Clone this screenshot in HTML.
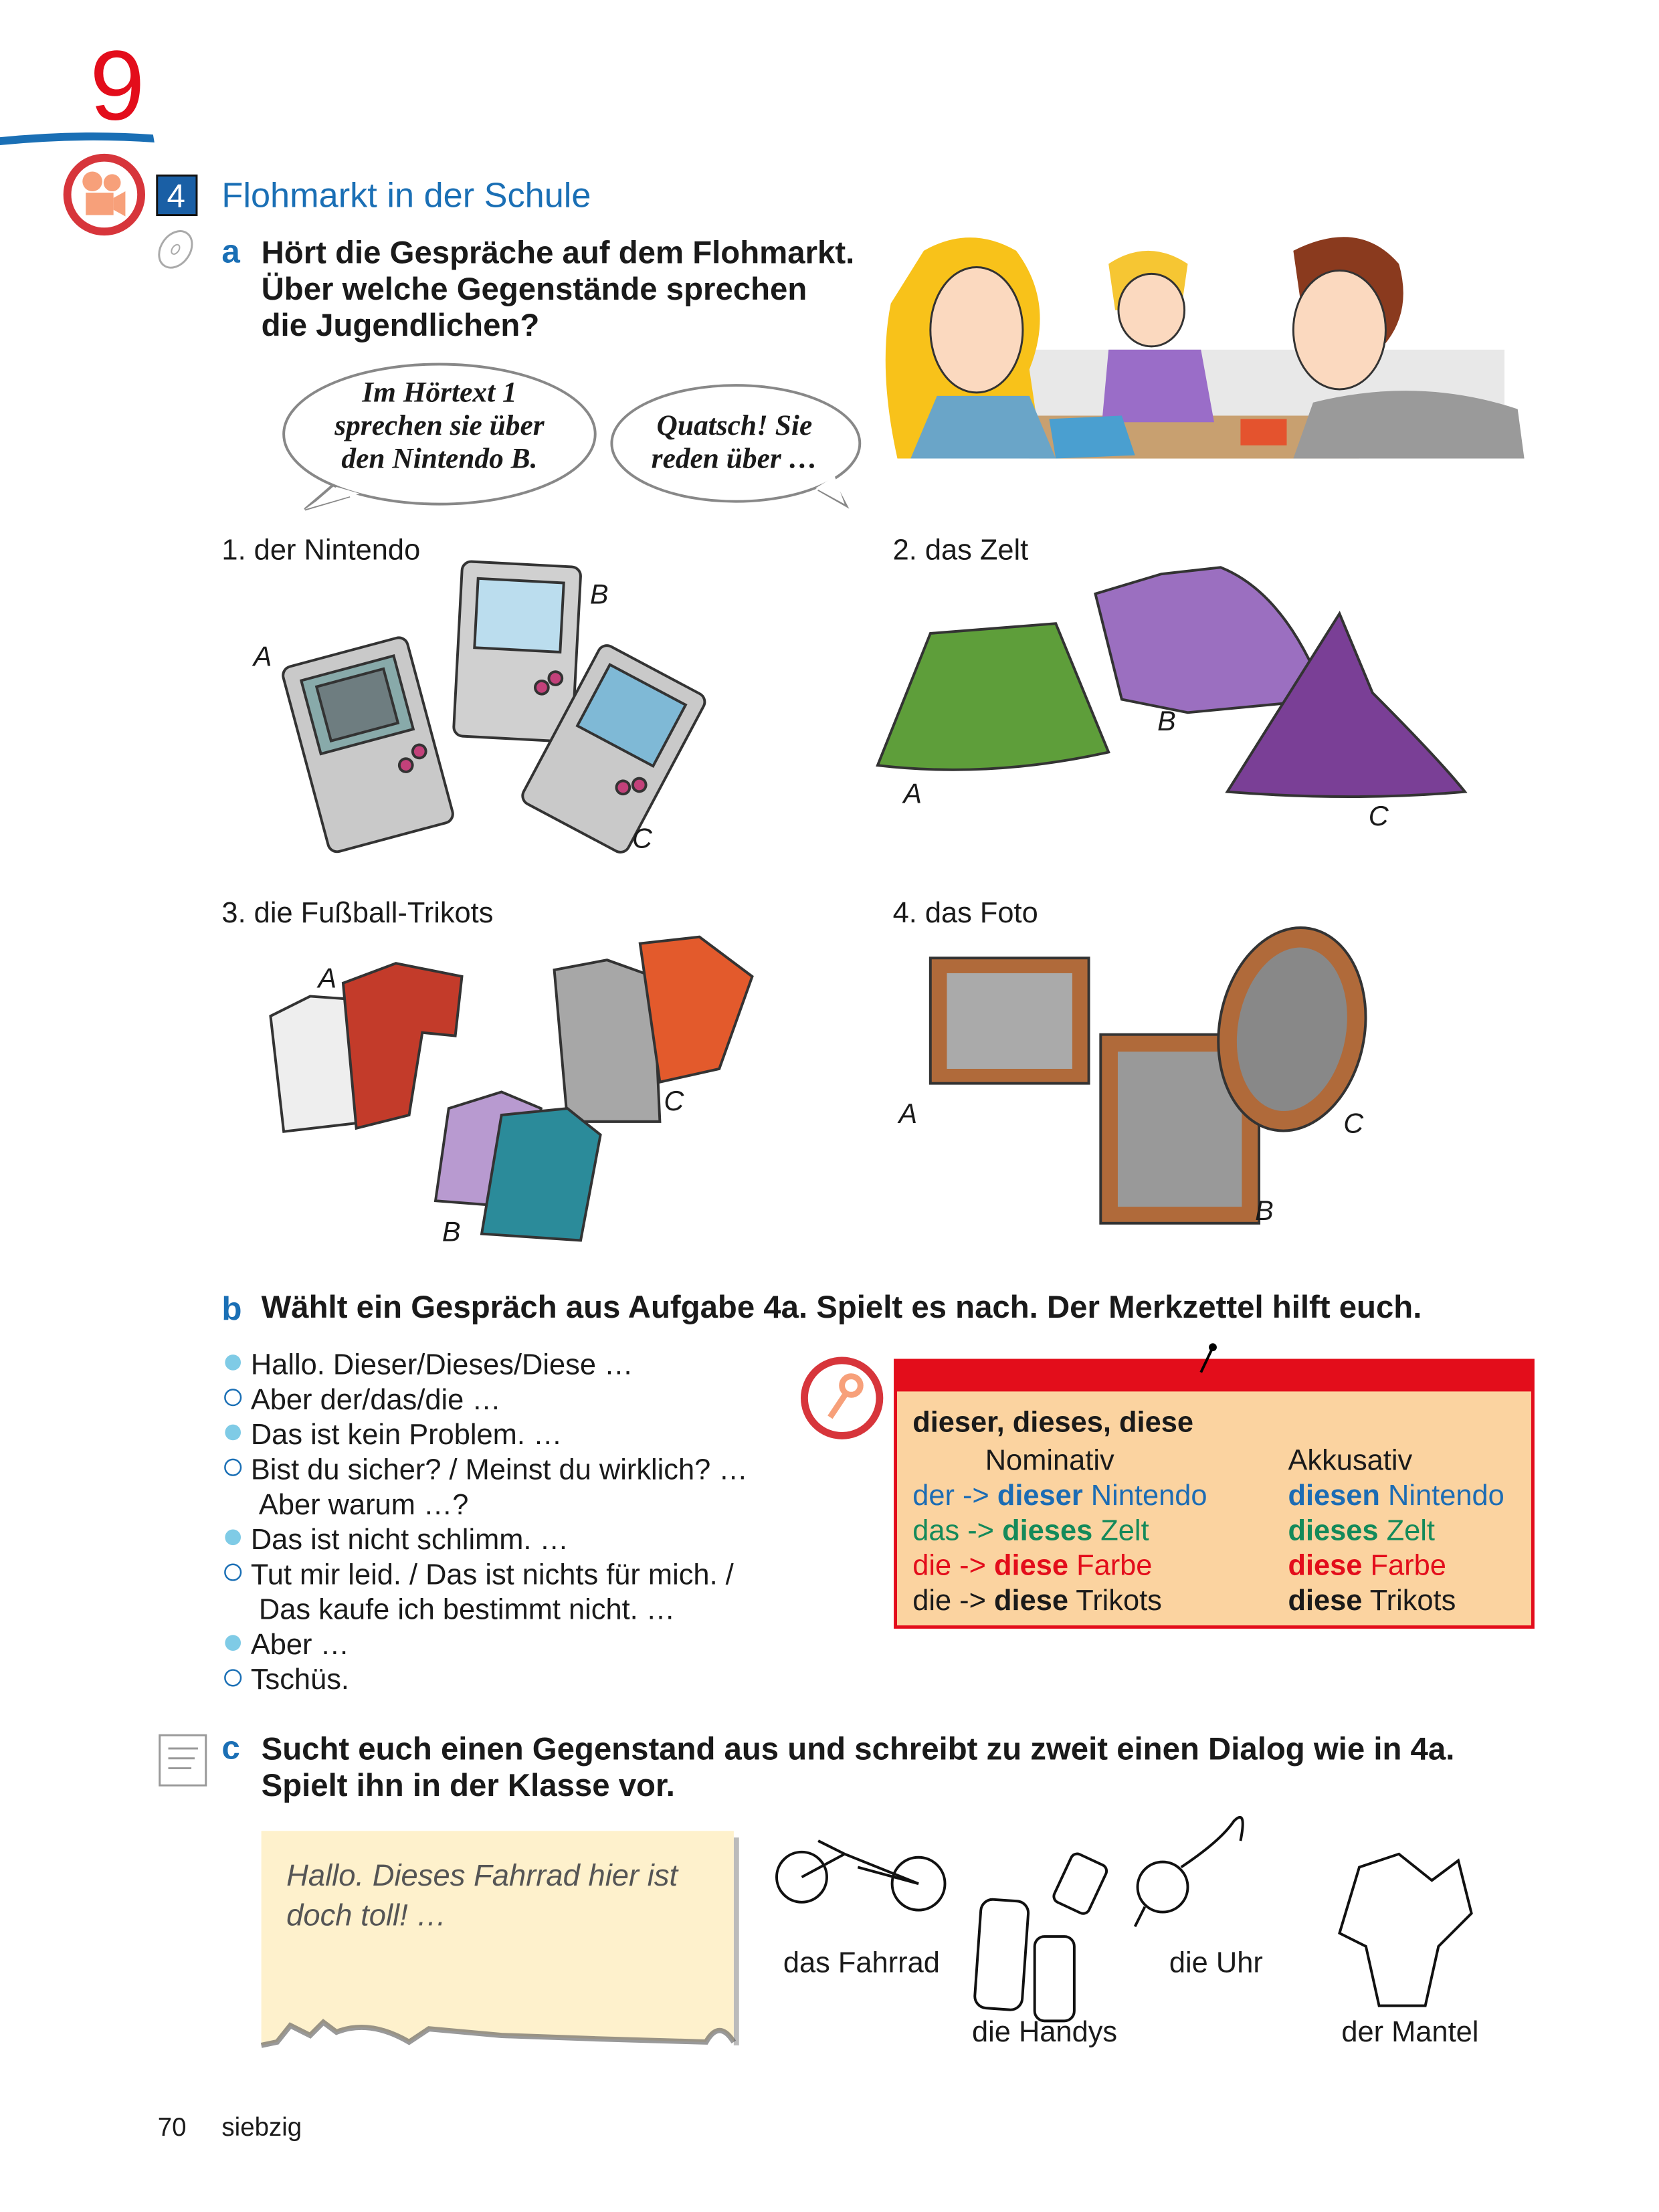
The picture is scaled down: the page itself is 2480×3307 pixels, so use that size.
<!DOCTYPE html>
<html><head><meta charset="utf-8"><style>
html,body{margin:0;padding:0;background:#fff}
body{width:2480px;height:3307px;position:relative;overflow:hidden;font-family:"Liberation Sans",sans-serif;color:#1a1a1a}
#w{position:absolute;left:0;top:0;width:2515px;height:3353px;transform:scale(0.9864);transform-origin:0 0}
.t{position:absolute;white-space:nowrap;line-height:1}
.b{font-weight:bold}
.blue{color:#1a6fb5}
.g{color:#148a5a}
.r{color:#e30d1b}
.bl{color:#1c6cb4}
svg{position:absolute;left:0;top:0}
</style></head><body><div id="w">
<svg width="2515" height="3353" viewBox="0 0 2515 3353">
<path d="M0 208 Q120 196 232 204 L234 216 Q120 208 0 220 Z" fill="#1a6fb5"/>
<circle cx="158" cy="295" r="56" fill="#fff" stroke="#d7353b" stroke-width="12"/>
<circle cx="140" cy="275" r="15" fill="#f7a07a"/><circle cx="170" cy="277" r="13" fill="#f7a07a"/>
<rect x="130" y="292" width="42" height="34" fill="#f7a07a"/><path d="M172 300 L190 290 L190 328 L172 318Z" fill="#f7a07a"/>
<rect x="238" y="266" width="60" height="60" fill="#1a5fa5" stroke="#111" stroke-width="3"/>
<ellipse cx="266" cy="378" rx="22" ry="30" transform="rotate(35 266 378)" fill="none" stroke="#aaa" stroke-width="3"/>
<ellipse cx="266" cy="378" rx="5" ry="8" transform="rotate(35 266 378)" fill="none" stroke="#aaa" stroke-width="2"/>
<!-- speech bubbles -->
<path d="M505 735 L462 772 L530 752" fill="#fff" stroke="#888" stroke-width="4"/>
<ellipse cx="666" cy="658" rx="236" ry="106" fill="#fff" stroke="#888" stroke-width="4"/>
<path d="M510 738 L462 772 L545 748Z" fill="#fff"/>
<path d="M1240 742 L1282 766 L1262 728" fill="#fff" stroke="#888" stroke-width="4"/>
<ellipse cx="1115" cy="672" rx="188" ry="88" fill="#fff" stroke="#888" stroke-width="4"/>
<path d="M1236 740 L1280 764 L1265 722Z" fill="#fff"/>
<!-- kids picture -->
<g>
<rect x="1440" y="530" width="840" height="165" fill="#e8e8e8"/>
<rect x="1560" y="630" width="500" height="65" fill="#c8a070"/>
<path d="M1400 380 Q1470 340 1540 380 Q1600 460 1560 560 L1580 695 L1360 695 Q1330 560 1350 460Z" fill="#f8c21a"/>
<ellipse cx="1480" cy="500" rx="70" ry="95" fill="#fbd9bf" stroke="#333" stroke-width="3"/>
<path d="M1420 600 L1560 600 L1600 695 L1380 695Z" fill="#6aa5c8"/>
<path d="M1680 400 Q1740 360 1800 400 L1790 470 L1690 470Z" fill="#f6c633"/>
<ellipse cx="1745" cy="470" rx="50" ry="55" fill="#fbd9bf" stroke="#333" stroke-width="3"/>
<path d="M1680 530 L1820 530 L1840 640 L1670 640Z" fill="#9a6dc8"/>
<path d="M1960 380 Q2060 330 2120 400 Q2140 470 2100 520 L1980 520Z" fill="#8a3a1e"/>
<ellipse cx="2030" cy="500" rx="70" ry="90" fill="#fbd9bf" stroke="#333" stroke-width="3"/>
<path d="M1990 610 Q2150 570 2300 620 L2310 695 L1960 695Z" fill="#9a9a9a"/>
<path d="M1590 635 L1700 630 L1720 690 L1600 695Z" fill="#4a9fd0"/>
<rect x="1880" y="635" width="70" height="40" fill="#e4532e"/>
</g>
<g stroke="#333" stroke-width="4">
<g transform="rotate(-15 550 1110)"><rect x="455" y="985" width="195" height="290" rx="14" fill="#c9c9c9"/><rect x="480" y="1010" width="145" height="115" fill="#8aa" /><rect x="500" y="1025" width="105" height="85" fill="#6e7d80"/><circle cx="600" cy="1175" r="10" fill="#c2417a"/><circle cx="625" cy="1160" r="10" fill="#c2417a"/></g>
<g transform="rotate(3 785 965)"><rect x="695" y="855" width="180" height="265" rx="14" fill="#d0d0d0"/><rect x="720" y="880" width="130" height="105" fill="#bde" /><circle cx="825" cy="1040" r="10" fill="#c2417a"/><circle cx="845" cy="1025" r="10" fill="#c2417a"/></g>
<g transform="rotate(28 930 1135)"><rect x="840" y="1000" width="180" height="270" rx="14" fill="#c9c9c9"/><rect x="865" y="1025" width="130" height="105" fill="#7fb9d6"/><circle cx="970" cy="1180" r="10" fill="#c2417a"/><circle cx="990" cy="1165" r="10" fill="#c2417a"/></g>
</g>
<path d="M1330 1160 L1410 960 L1600 945 L1680 1140 Q1500 1180 1330 1160Z" fill="#5e9e3a" stroke="#333" stroke-width="4"/>
<path d="M1660 900 L1760 870 L1850 860 Q1950 900 2010 1060 L1800 1080 L1700 1060Z" fill="#9b6fc0" stroke="#333" stroke-width="4"/>
<path d="M1860 1200 L2030 930 L2080 1050 Q2180 1150 2220 1200 Q2050 1215 1860 1200Z" fill="#7a3f96" stroke="#333" stroke-width="4"/>
<g stroke="#333" stroke-width="4">
<path d="M410 1540 L470 1510 L540 1515 L560 1700 L430 1715Z" fill="#eee"/>
<path d="M520 1490 L600 1460 L700 1480 L690 1570 L640 1565 L620 1690 L540 1710Z" fill="#c33b2a"/>
<path d="M840 1470 L920 1455 L990 1480 L1000 1700 L860 1700Z" fill="#a7a7a7"/>
<path d="M970 1430 L1060 1420 L1140 1480 L1090 1620 L1000 1640Z" fill="#e35a2c"/>
<path d="M680 1680 L760 1655 L820 1680 L790 1830 L660 1820Z" fill="#b89ad0"/>
<path d="M760 1690 L860 1680 L910 1720 L880 1880 L730 1870Z" fill="#2b8b9a"/>
</g>
<rect x="1410" y="1452" width="240" height="190" fill="#b06a3a" stroke="#333" stroke-width="4"/>
<rect x="1435" y="1475" width="190" height="145" fill="#aaa"/>
<rect x="1668" y="1568" width="240" height="286" fill="#b06a3a" stroke="#333" stroke-width="4"/>
<rect x="1694" y="1594" width="188" height="235" fill="#999"/>
<ellipse cx="1958" cy="1560" rx="110" ry="155" transform="rotate(10 1958 1560)" fill="#b06a3a" stroke="#333" stroke-width="4"/>
<ellipse cx="1958" cy="1560" rx="82" ry="125" transform="rotate(10 1958 1560)" fill="#888"/>
<circle cx="1276" cy="2119" r="57" fill="#fff" stroke="#d7353b" stroke-width="11"/>
<circle cx="1290" cy="2100" r="14" fill="none" stroke="#f7a07a" stroke-width="9"/><path d="M1282 2112 L1258 2148" stroke="#f7a07a" stroke-width="9"/>
<rect x="1357" y="2062" width="966" height="404" fill="#fbd3a0" stroke="#e30d1b" stroke-width="5"/>
<rect x="1357" y="2062" width="966" height="47" fill="#e30d1b"/>
<path d="M1820 2080 L1838 2042" stroke="#000" stroke-width="4"/><circle cx="1838" cy="2042" r="6" fill="#000"/>
<g fill="#7fcbe6"><circle cx="353" cy="2065" r="12"/><circle cx="353" cy="2171" r="12"/><circle cx="353" cy="2330" r="12"/><circle cx="353" cy="2490" r="12"/></g>
<g fill="none" stroke="#1a6fb5" stroke-width="2.5"><circle cx="353" cy="2118" r="12"/><circle cx="353" cy="2224" r="12"/><circle cx="353" cy="2383" r="12"/><circle cx="353" cy="2543" r="12"/></g>
<rect x="242" y="2630" width="70" height="76" fill="#fff" stroke="#999" stroke-width="3"/><path d="M255 2650 h45 M255 2665 h40 M255 2680 h35" stroke="#999" stroke-width="3"/>
<path d="M1112 2785 L1120 2785 L1120 3100 L1112 3100Z" fill="#bbb"/>
<path d="M396 2775 L1112 2775 L1112 3095 Q1090 3060 1070 3095 L900 3090 L760 3085 L650 3075 L620 3095 Q560 3060 510 3080 L490 3065 L470 3085 L440 3070 L420 3095 L396 3100Z" fill="#fef1cc"/>
<path d="M396 3100 L420 3095 L440 3070 L470 3085 L490 3065 L510 3080 Q560 3060 620 3095 L650 3075 L760 3085 L900 3090 L1070 3095 Q1090 3060 1112 3095" fill="none" stroke="#555" stroke-width="8" opacity=".6"/>
<g fill="none" stroke="#111" stroke-width="4">
<circle cx="1215" cy="2845" r="38"/><circle cx="1392" cy="2855" r="40"/><path d="M1215 2845 L1280 2810 L1392 2855 L1300 2830 M1240 2790 L1280 2810"/>
<rect x="1482" y="2880" width="72" height="165" rx="18" transform="rotate(4 1518 2960)"/><rect x="1568" y="2935" width="60" height="128" rx="15"/><rect x="1608" y="2815" width="58" height="80" rx="10" transform="rotate(25 1637 2855)"/>
<circle cx="1762" cy="2860" r="38"/><path d="M1790 2830 Q1850 2790 1870 2760 Q1890 2740 1880 2790 M1735 2890 L1720 2920"/>
<path d="M2060 2830 L2120 2810 L2170 2850 L2210 2820 L2230 2900 L2180 2950 L2160 3040 L2090 3040 L2070 2950 L2030 2930Z"/>
</g>
</svg>

<div class="t r" style="left:136px;top:54px;font-size:150px">9</div>
<div class="t" style="left:253px;top:272px;font-size:50px;color:#fff">4</div>
<div class="t blue" style="left:336px;top:270px;font-size:53px">Flohmarkt in der Schule</div>
<div class="t blue b" style="left:336px;top:356px;font-size:50px">a</div>
<div class="t b" style="left:396px;top:356px;font-size:48px;line-height:55px">Hört die Gespräche auf dem Flohmarkt.<br>Über welche Gegenstände sprechen<br>die Jugendlichen?</div>
<div class="t" style="left:436px;top:570px;width:460px;text-align:center;font-family:'Liberation Serif',serif;font-style:italic;font-weight:bold;font-size:44px;line-height:50px">Im Hörtext 1<br>sprechen sie über<br>den Nintendo B.</div>
<div class="t" style="left:928px;top:620px;width:370px;text-align:center;font-family:'Liberation Serif',serif;font-style:italic;font-weight:bold;font-size:44px;line-height:50px">Quatsch! Sie<br>reden über …</div>

<div class="t" style="left:336px;top:812px;font-size:44px">1. der Nintendo</div>
<div class="t" style="left:1353px;top:812px;font-size:44px">2. das Zelt</div>
<div class="t" style="left:1353px;top:1362px;font-size:44px">4. das Foto</div>
<div class="t" style="left:336px;top:1362px;font-size:44px">3. die Fußball-Trikots</div>
<div class="t" style="left:384px;top:974px;font-size:42px;font-style:italic">A</div>
<div class="t" style="left:894px;top:880px;font-size:42px;font-style:italic">B</div>
<div class="t" style="left:958px;top:1250px;font-size:42px;font-style:italic">C</div>
<div class="t" style="left:1369px;top:1182px;font-size:42px;font-style:italic">A</div>
<div class="t" style="left:1754px;top:1072px;font-size:42px;font-style:italic">B</div>
<div class="t" style="left:2074px;top:1216px;font-size:42px;font-style:italic">C</div>
<div class="t" style="left:482px;top:1462px;font-size:42px;font-style:italic">A</div>
<div class="t" style="left:1006px;top:1648px;font-size:42px;font-style:italic">C</div>
<div class="t" style="left:670px;top:1846px;font-size:42px;font-style:italic">B</div>
<div class="t" style="left:1362px;top:1667px;font-size:42px;font-style:italic">A</div>
<div class="t" style="left:2036px;top:1682px;font-size:42px;font-style:italic">C</div>
<div class="t" style="left:1902px;top:1814px;font-size:42px;font-style:italic">B</div>

<div class="t blue b" style="left:336px;top:1958px;font-size:50px">b</div>
<div class="t b" style="left:396px;top:1958px;font-size:48px">Wählt ein Gespräch aus Aufgabe 4a. Spielt es nach. Der Merkzettel hilft euch.</div>
<div class="t" style="left:380px;top:2042px;font-size:44px;line-height:53px">Hallo. Dieser/Dieses/Diese …<br>Aber der/das/die …<br>Das ist kein Problem. …<br>Bist du sicher? / Meinst du wirklich? …<br>&nbsp;Aber warum …?<br>Das ist nicht schlimm. …<br>Tut mir leid. / Das ist nichts für mich. /<br>&nbsp;Das kaufe ich bestimmt nicht. …<br>Aber …<br>Tschüs.</div>

<div class="t b" style="left:1383px;top:2134px;font-size:44px">dieser, dieses, diese</div>
<div class="t" style="left:1383px;top:2187px;font-size:44px;line-height:53px">&nbsp;&nbsp;&nbsp;&nbsp;&nbsp;&nbsp;&nbsp;&nbsp;&nbsp;Nominativ<br><span class="bl">der -&gt; <b>dieser</b> Nintendo</span><br><span class="g">das -&gt; <b>dieses</b> Zelt</span><br><span class="r">die -&gt; <b>diese</b> Farbe</span><br>die -&gt; <b>diese</b> Trikots</div>
<div class="t" style="left:1952px;top:2187px;font-size:44px;line-height:53px">Akkusativ<br><span class="bl"><b>diesen</b> Nintendo</span><br><span class="g"><b>dieses</b> Zelt</span><br><span class="r"><b>diese</b> Farbe</span><br><b>diese</b> Trikots</div>

<div class="t blue b" style="left:336px;top:2624px;font-size:50px">c</div>
<div class="t b" style="left:396px;top:2624px;font-size:48px;line-height:55px">Sucht euch einen Gegenstand aus und schreibt zu zweit einen Dialog wie in 4a.<br>Spielt ihn in der Klasse vor.</div>
<div class="t" style="left:434px;top:2812px;font-size:46px;line-height:60px;font-style:italic;color:#555">Hallo. Dieses Fahrrad hier ist<br>doch toll! …</div>

<div class="t" style="left:1187px;top:2953px;font-size:44px">das Fahrrad</div>
<div class="t" style="left:1473px;top:3058px;font-size:44px">die Handys</div>
<div class="t" style="left:1772px;top:2953px;font-size:44px">die Uhr</div>
<div class="t" style="left:2033px;top:3058px;font-size:44px">der Mantel</div>

<div class="t" style="left:239px;top:3205px;font-size:39px">70</div>
<div class="t" style="left:336px;top:3205px;font-size:39px">siebzig</div>
</div></body></html>
